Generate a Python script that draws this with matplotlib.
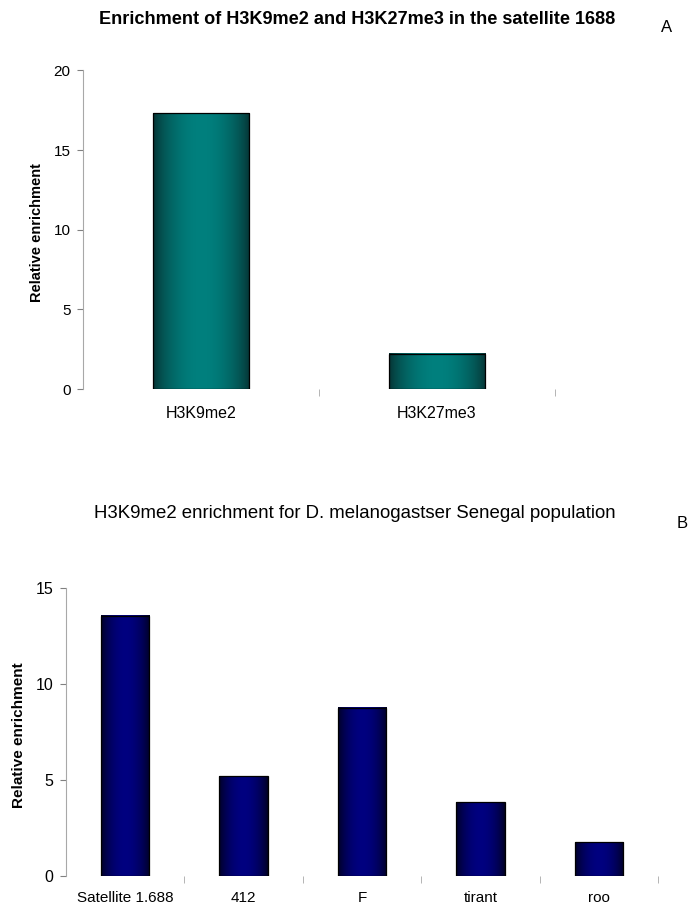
import numpy as np
import matplotlib
matplotlib.use("Agg")
import matplotlib.pyplot as plt

plt.rcParams['font.family'] = ['Liberation Sans', 'DejaVu Sans']

# Data
cats_a = ["H3K9me2", "H3K27me3"]
vals_a = [17.3, 2.2]
cats_b = ["Satellite 1.688", "412", "F", "tirant", "roo"]
vals_b = [13.55, 5.2, 8.75, 3.85, 1.75]

fig = plt.figure(figsize=(6.93, 9.13), dpi=100)

def gradient(dark, bright, n=200):
    t = np.linspace(0, 1, n)
    b = np.clip(np.sin(np.pi * t) ** 0.7, 0, 1)
    dark = np.array(dark) / 255.0
    bright = np.array(bright) / 255.0
    cols = dark[None, :] + (bright - dark)[None, :] * b[:, None]
    return cols[None, :, :]

def draw(ax, cats, vals, ymax, ystep, dark, bright, xsize, xpad, ysize):
    n = len(cats)
    x = np.arange(n) + 0.5
    bars = ax.bar(x, vals, width=0.41, color='none', edgecolor='black', linewidth=0.9, zorder=3)
    g = gradient(dark, bright)
    for b in bars:
        x0, y0 = b.get_xy()
        ax.imshow(g, extent=[x0, x0 + b.get_width(), y0, y0 + b.get_height()],
                  aspect='auto', zorder=2, interpolation='bilinear')
    ax.set_xlim(0, n)
    ax.set_ylim(0, ymax)
    ax.set_yticks(np.arange(0, ymax + 0.1, ystep))
    ax.set_xticks(x)
    ax.set_xticklabels(cats)
    ax.set_xticks(np.arange(1, n + 1), minor=True)
    for s in ['top', 'right', 'bottom']:
        ax.spines[s].set_visible(False)
    ax.spines['left'].set_color('#a8a8a8')
    ax.spines['left'].set_linewidth(0.8)
    ax.tick_params(axis='x', which='major', length=0, pad=xpad, labelsize=xsize)
    ax.tick_params(axis='x', which='minor', length=5, color='#a8a8a8', direction='out')
    ax.tick_params(axis='y', length=4, color='#808080', pad=5, labelsize=ysize)

# Panel A
axA = fig.add_axes([83 / 693, 1 - 389 / 913, (555 - 83) / 693, (389 - 70.5) / 913])
draw(axA, cats_a, vals_a, 20, 5, (6, 48, 48), (0, 128, 126), 11.5, 12.5, 11)
fig.text(37 / 693, 1 - 233 / 913, "Relative enrichment", rotation=90,
         ha='center', va='center', fontsize=10.5, fontweight='bold')
fig.text(357 / 693, 1 - 20 / 913, "Enrichment of H3K9me2 and H3K27me3 in the satellite 1688",
         ha='center', va='center', fontsize=13.1, fontweight='bold')
fig.text(667 / 693, 1 - 28 / 913, "A", ha='center', va='center', fontsize=12)

# Panel B
axB = fig.add_axes([66 / 693, 1 - 876 / 913, (658 - 66) / 693, (876 - 588) / 913])
draw(axB, cats_b, vals_b, 15, 5, (0, 0, 30), (0, 0, 128), 11, 11, 11.5)
fig.text(19 / 693, 1 - 735 / 913, "Relative enrichment", rotation=90,
         ha='center', va='center', fontsize=11, fontweight='bold')
fig.text(355 / 693, 1 - 513 / 913, "H3K9me2 enrichment for D. melanogastser Senegal population",
         ha='center', va='center', fontsize=13.4)
fig.text(682 / 693, 1 - 523 / 913, "B", ha='center', va='center', fontsize=12)

fig.savefig("out.png", dpi=100)
